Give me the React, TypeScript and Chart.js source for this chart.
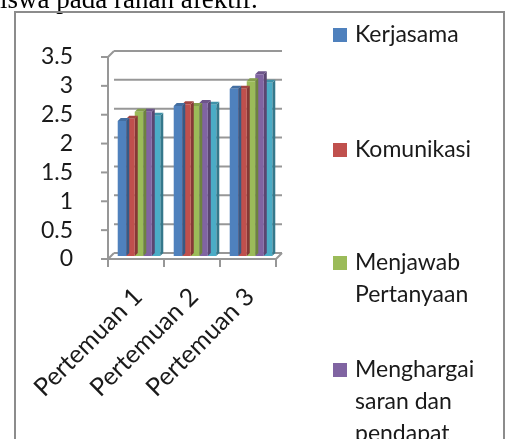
import React, { useEffect, useRef } from "react";
import { Chart, registerables } from "chart.js";

Chart.register(...registerables);

// ---- data ----
const categories = ["Pertemuan 1", "Pertemuan 2", "Pertemuan 3"];
const seriesNames = [
  "Kerjasama",
  "Komunikasi",
  "Menjawab Pertanyaan",
  "Menghargai saran dan pendapat",
  "Keaktifan",
];
const kerjasama = [2.34, 2.6, 2.9];
const komunikasi = [2.38, 2.63, 2.9];
const menjawabPertanyaan = [2.5, 2.6, 3.03];
const menghargaiSaran = [2.5, 2.65, 3.15];
const keaktifan = [2.43, 2.62, 3.0];
const yTickValues = [0, 0.5, 1, 1.5, 2, 2.5, 3, 3.5];
const seriesColors = ["#4F81BD", "#C0504D", "#9BBB59", "#8064A2", "#4BACC6"];
const headingText = "iswa pada ranah afektif.";

const seriesValues = [kerjasama, komunikasi, menjawabPertanyaan, menghargaiSaran, keaktifan];

const W = 507;
const H = 560;
const DEPTH = 3;
const FONT = "Lato";

function shade(hex: string, f: number) {
  const n = parseInt(hex.slice(1), 16);
  let r = (n >> 16) & 255, g = (n >> 8) & 255, b = n & 255;
  if (f < 0) {
    r = Math.round(r * (1 + f)); g = Math.round(g * (1 + f)); b = Math.round(b * (1 + f));
  } else {
    r = Math.round(r + (255 - r) * f); g = Math.round(g + (255 - g) * f); b = Math.round(b + (255 - b) * f);
  }
  return `rgb(${r},${g},${b})`;
}

function line(ctx: CanvasRenderingContext2D, x1: number, y1: number, x2: number, y2: number) {
  ctx.beginPath();
  ctx.moveTo(x1, y1);
  ctx.lineTo(x2, y2);
  ctx.stroke();
}

const excel3d = {
  id: "excel3d",
  beforeDraw(chart: any) {
    const { ctx, chartArea: a, scales } = chart;
    const x = scales.x, y = scales.y;
    ctx.save();
    // heading text (cut off at the top)
    ctx.fillStyle = "#000";
    ctx.font = '27px "Liberation Serif"';
    ctx.textBaseline = "alphabetic";
    ctx.textAlign = "left";
    ctx.fillText(headingText, 0, 8);
    // chart frame
    ctx.strokeStyle = "#8c8c8c";
    ctx.lineWidth = 2;
    ctx.strokeRect(15, 12, 489, 800);

    ctx.strokeStyle = "#979797";
    ctx.lineWidth = 2;
    // back wall gridlines
    for (const v of yTickValues) {
      const py = y.getPixelForValue(v);
      line(ctx, a.left + DEPTH, py - DEPTH, a.right + DEPTH, py - DEPTH);
    }
    const topY = y.getPixelForValue(yTickValues[yTickValues.length - 1]);
    const baseY = y.getPixelForValue(0);
    // left wall top edge
    line(ctx, a.left - DEPTH, topY + DEPTH, a.left + DEPTH, topY - DEPTH);
    // floor
    line(ctx, a.left - DEPTH, baseY + DEPTH, a.right - DEPTH, baseY + DEPTH);
    line(ctx, a.right - DEPTH, baseY + DEPTH, a.right + DEPTH, baseY - DEPTH);
    line(ctx, a.left - DEPTH, baseY + DEPTH, a.left + DEPTH, baseY - DEPTH);
    // front value axis
    line(ctx, a.left - DEPTH, topY + DEPTH - 1, a.left - DEPTH, baseY + DEPTH + 1);
    for (const v of yTickValues) {
      const py = y.getPixelForValue(v);
      line(ctx, a.left - DEPTH - 7, py + DEPTH, a.left - DEPTH, py + DEPTH);
    }
    // category ticks
    for (let i = 0; i <= categories.length; i++) {
      const bx = x.getPixelForValue(i - 0.5) - DEPTH;
      line(ctx, bx, baseY + DEPTH, bx, baseY + DEPTH + 8);
    }
    ctx.restore();
  },
  beforeDatasetDraw(chart: any, args: any) {
    const { ctx } = chart;
    const meta = chart.getDatasetMeta(args.index);
    const color = seriesColors[args.index];
    ctx.save();
    for (const el of meta.data) {
      const p = el.getProps(["x", "y", "base", "width"], true);
      const left = p.x - p.width / 2;
      const right = p.x + p.width / 2;
      ctx.fillStyle = shade(color, -0.3);
      ctx.beginPath();
      ctx.moveTo(right, p.y);
      ctx.lineTo(right + DEPTH, p.y - DEPTH);
      ctx.lineTo(right + DEPTH, p.base - DEPTH);
      ctx.lineTo(right, p.base);
      ctx.closePath();
      ctx.fill();
      ctx.fillStyle = shade(color, -0.15);
      ctx.beginPath();
      ctx.moveTo(left, p.y);
      ctx.lineTo(left + DEPTH, p.y - DEPTH);
      ctx.lineTo(right + DEPTH, p.y - DEPTH);
      ctx.lineTo(right, p.y);
      ctx.closePath();
      ctx.fill();
    }
    ctx.restore();
  },
  afterDraw(chart: any) {
    const { ctx } = chart;
    const rowY = [35, 150, 263, 370, 482];
    const lineH = 32;
    ctx.save();
    ctx.font = `23px ${FONT}`;
    ctx.textBaseline = "middle";
    ctx.textAlign = "left";
    seriesNames.forEach((name, i) => {
      const words = name.split(" ");
      const lines: string[] = [];
      let cur = "";
      for (const w of words) {
        const t = cur ? cur + " " + w : w;
        if (cur && ctx.measureText(t).width > 145) {
          lines.push(cur);
          cur = w;
        } else cur = t;
      }
      if (cur) lines.push(cur);
      const cy = rowY[i];
      ctx.fillStyle = seriesColors[i];
      ctx.fillRect(333, cy - 7, 14, 14);
      ctx.fillStyle = "#1a1a1a";
      lines.forEach((l, j) => ctx.fillText(l, 355, cy + j * lineH));
    });
    ctx.restore();
  },
};

export default function App() {
  const ref = useRef<HTMLCanvasElement | null>(null);
  useEffect(() => {
    if (!ref.current) return;
    const chart = new Chart(ref.current, {
      type: "bar",
      data: {
        labels: categories,
        datasets: seriesNames.map((name, i) => ({
          label: name,
          data: seriesValues[i],
          backgroundColor: seriesColors[i],
          borderWidth: 0,
          categoryPercentage: 0.76,
          barPercentage: 1,
        })),
      },
      options: {
        responsive: false,
        animation: false,
        devicePixelRatio: 1,
        layout: { padding: { top: 54, right: 228, left: 0, bottom: 0 } },
        plugins: { legend: { display: false }, tooltip: { enabled: false }, title: { display: false } },
        scales: {
          x: {
            grid: { display: false },
            border: { display: false },
            ticks: {
              autoSkip: false,
              minRotation: 45,
              maxRotation: 45,
              padding: 18,
              labelOffset: -1,
              color: "#1a1a1a",
              font: { family: FONT, size: 25 },
            },
            afterFit: (s: any) => { s.height = H - 256; },
          },
          y: {
            min: 0,
            max: 3.5,
            grid: { display: false },
            border: { display: false },
            ticks: {
              autoSkip: false,
              stepSize: 0.5,
              padding: 30,
              labelOffset: 3,
              color: "#1a1a1a",
              font: { family: FONT, size: 23 },
              callback: (v: any) => String(v),
            },
            afterFit: (s: any) => { s.width = 111; },
          },
        },
      },
      plugins: [excel3d],
    });
    return () => chart.destroy();
  }, []);
  return (
    <div style={{ position: "absolute", left: 0, top: 0, width: W, height: H, overflow: "hidden" }}>
      <canvas ref={ref} width={W} height={H} style={{ width: W, height: H, display: "block" }} />
    </div>
  );
}
